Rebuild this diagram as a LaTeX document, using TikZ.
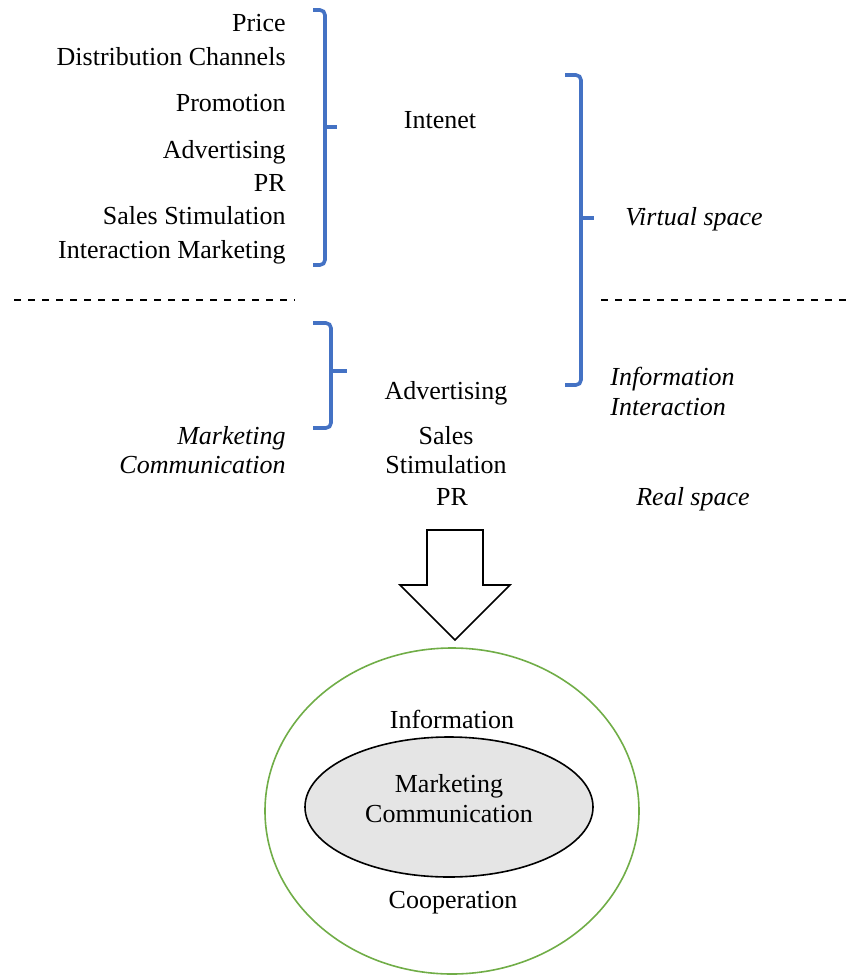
\documentclass[tikz,border=0pt]{standalone}
\usepackage{fontspec}
\setmainfont{Liberation Serif}
\usepackage{tikz}
\usetikzlibrary{positioning, shapes.geometric}
\definecolor{braceblue}{HTML}{4472C4}
\definecolor{ringgreen}{HTML}{70AD47}
\tikzset{txt/.style={inner sep=0pt, text height=0.72em, text depth=0.22em, yshift=-1.5pt, font=\fontsize{13}{15}\selectfont}}
\tikzset{rtxt/.style={txt, anchor=east}}
\tikzset{itxt/.style={txt, font=\fontsize{13}{15}\selectfont\itshape}}
\tikzset{brc/.style={draw=braceblue, line width=1.8pt, rounded corners=2.5pt}}
\tikzset{sep/.style={draw, line width=0.8pt, dash pattern=on 3.5pt off 3.5pt}}

\begin{document}
\begin{tikzpicture}[x=0.5pt, y=-0.5pt]
  \useasboundingbox (0,0) rectangle (848,975);
  % left column
  \node[rtxt] (price) at (286,23) {Price};
  \node[rtxt] (dist) at (286,57) {Distribution Channels};
  \node[rtxt] (promo) at (286,103) {Promotion};
  \node[rtxt] (adv) at (286,150) {Advertising};
  \node[rtxt] (pr) at (286,183) {PR};
  \node[rtxt] (sales) at (286,216) {Sales Stimulation};
  \node[rtxt] (inter) at (286,250) {Interaction Marketing};
  \node[txt] (net) at (440,120) {Intenet};
  % braces
  \draw[brc] (313,10) -- (325,10) -- (325,265) -- (313,265);
  \draw[brc, rounded corners=0pt] (325,127) -- (337,127);
  \draw[brc] (313,323) -- (331,323) -- (331,428) -- (313,428);
  \draw[brc, rounded corners=0pt] (331,371) -- (347,371);
  \draw[brc] (565,75) -- (581,75) -- (581,385) -- (565,385);
  \draw[brc, rounded corners=0pt] (581,218) -- (594,218);
  \node[itxt] (virt) at (694,217) {Virtual space};
  % border between spaces
  \draw[sep] (14,300) -- (295,300);
  \draw[sep] (601,300) -- (848,300);
  % real space
  \node[itxt, anchor=west] (info1) at (610,377) {Information};
  \node[itxt, anchor=west] (info2) at (610,407) {Interaction};
  \node[itxt, anchor=east] (mc1) at (286,436) {Marketing};
  \node[itxt, anchor=east] (mc2) at (286,465) {Communication};
  \node[txt] (adv2) at (446,391) {Advertising};
  \node[txt] (sales2) at (446,436) {Sales};
  \node[txt] (stim2) at (446,465) {Stimulation};
  \node[txt] (pr2) at (452,497) {PR};
  \node[itxt] (real) at (693,497) {Real space};
  % arrow
  \draw[line width=0.8pt] (427,530) -- (483,530) -- (483,585) -- (510,585)
    -- (455,640) -- (400,585) -- (427,585) -- cycle;
  % result
  \node[ellipse, draw=ringgreen, line width=0.8pt, minimum width=187pt,
    minimum height=163pt] (outer) at (452,811) {};
  \node[ellipse, draw, line width=0.8pt, fill=black!10, minimum width=144pt,
    minimum height=70pt] (inner) at (449,807) {};
  \node[txt] (infor) at (452,720) {Information};
  \node[txt, align=center, text height=, text depth=] (mcomm) at (449,796)
    {Marketing\\Communication};
  \node[txt] (coop) at (453,900) {Cooperation};
\end{tikzpicture}
\end{document}
